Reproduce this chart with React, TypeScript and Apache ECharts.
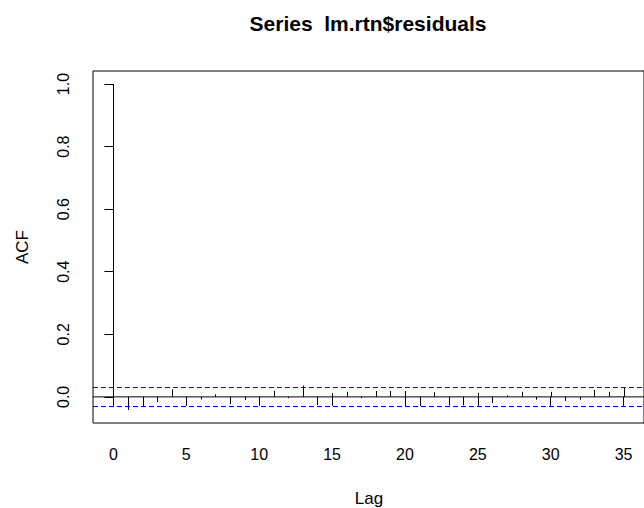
import React, { useEffect, useRef } from "react";
import * as echarts from "echarts";

const lags: number[] = Array.from({ length: 36 }, (_, i) => i);
const acfValues: number[] = [
  1.0, -0.042, -0.029, -0.017, 0.024, -0.026, -0.008, 0.008, -0.023, -0.01,
  -0.005, 0.019, -0.004, 0.036, -0.026, 0.012, 0.016, -0.004, 0.019, 0.019,
  0.019, -0.03, 0.015, -0.027, -0.027, 0.013, -0.02, 0.005, 0.016, -0.009,
  0.016, -0.013, -0.009, 0.022, 0.016, 0.031,
];
const ciLimit = 0.0337;
const xTicks: number[] = [0, 5, 10, 15, 20, 25, 30, 35];
const yTicks: number[] = [0, 0.2, 0.4, 0.6, 0.8, 1.0];
const xRange: number[] = [-1.4, 36.4];
const yRange: number[] = [-0.0835, 1.0417];
const titleText = "Series  lm.rtn$residuals";
const xName = "Lag";
const yName = "ACF";

const FONT = "'Liberation Sans', Arial, sans-serif";

export default function App() {
  const ref = useRef<HTMLDivElement>(null);
  useEffect(() => {
    if (!ref.current) return;
    const chart = echarts.init(ref.current, null, { renderer: "svg" });
    chart.setOption({
      animation: false,
      backgroundColor: "#ffffff",
      grid: {
        left: 93,
        top: 71,
        right: -3,
        bottom: 85,
        show: true,
        borderColor: "#000",
        borderWidth: 1,
        backgroundColor: "transparent",
      },
      xAxis: {
        type: "value",
        min: xRange[0],
        max: xRange[1],
        splitLine: { show: false },
        axisLine: { show: false },
        axisTick: {
          show: true,
          customValues: xTicks,
          length: 9,
          lineStyle: { color: "#000", width: 1 },
        },
        axisLabel: {
          customValues: xTicks,
          margin: 23,
          color: "#000",
          fontFamily: FONT,
          fontSize: 16,
          formatter: (v: number) => String(v),
        },
      },
      yAxis: {
        type: "value",
        min: yRange[0],
        max: yRange[1],
        splitLine: { show: false },
        axisLine: { show: false },
        axisTick: {
          show: true,
          customValues: yTicks,
          length: 9,
          lineStyle: { color: "#000", width: 1 },
        },
        axisLabel: {
          customValues: yTicks,
          rotate: 90,
          margin: 22,
          color: "#000",
          fontFamily: FONT,
          fontSize: 16,
          formatter: (v: number) => v.toFixed(1),
        },
      },
      graphic: [
        {
          type: "text",
          x: 368,
          y: 23,
          style: {
            text: titleText,
            fontFamily: FONT,
            fontWeight: "bold",
            fontSize: 21,
            fill: "#000",
            textAlign: "center",
            textVerticalAlign: "middle",
          },
        },
        {
          type: "text",
          x: 369,
          y: 498,
          style: {
            text: xName,
            fontFamily: FONT,
            fontSize: 17,
            fill: "#000",
            textAlign: "center",
            textVerticalAlign: "middle",
          },
        },
        {
          type: "text",
          x: 22,
          y: 247,
          rotation: Math.PI / 2,
          style: {
            text: yName,
            fontFamily: FONT,
            fontSize: 17,
            fill: "#000",
            textAlign: "center",
            textVerticalAlign: "middle",
          },
        },
      ],
      series: [
        {
          type: "line",
          z: 3,
          symbol: "none",
          silent: true,
          data: [
            [xRange[0], 0],
            [xRange[1], 0],
          ],
          lineStyle: { color: "#000000", width: 1 },
          markLine: {
            silent: true,
            symbol: ["none", "none"],
            label: { show: false },
            lineStyle: { color: "#0000ff", type: [5, 3], width: 1, opacity: 1 },
            data: [{ yAxis: ciLimit }, { yAxis: -ciLimit }],
          },
        },
        {
          type: "custom",
          z: 4,
          data: lags.map((l, i) => [l, acfValues[i]]),
          renderItem: (params: any, api: any) => {
            const x = api.value(0);
            const y = api.value(1);
            const p0 = api.coord([x, 0]);
            const p1 = api.coord([x, y]);
            const px = Math.round(p0[0]) + 0.5;
            return {
              type: "line",
              shape: { x1: px, y1: p0[1], x2: px, y2: p1[1] },
              style: { stroke: "#000", lineWidth: 1 },
            };
          },
        },
      ],
    });
    return () => chart.dispose();
  }, []);
  return (
    <div
      ref={ref}
      style={{ position: "fixed", left: 0, top: 0, width: 644, height: 508 }}
    />
  );
}
